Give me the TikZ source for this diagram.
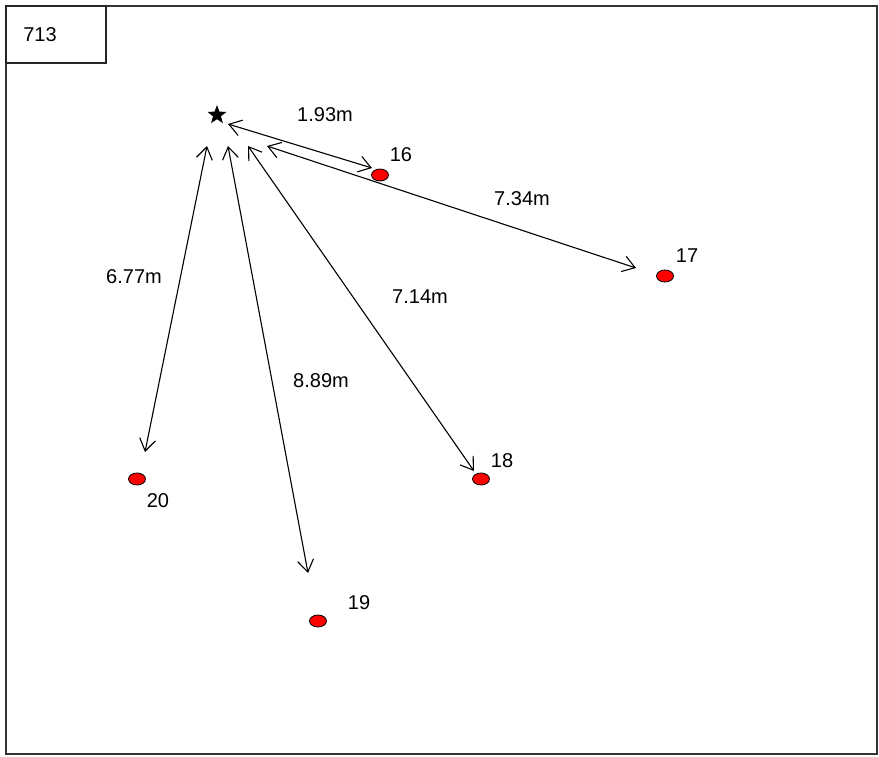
\documentclass[tikz,border=0pt]{standalone}
\usepackage{fontspec}
\setmainfont{Liberation Sans}
\usetikzlibrary{arrows.meta,shapes.geometric}
\tikzset{
  pt/.style={ellipse, draw=black, line width=0.8pt, fill=red, minimum width=17pt, minimum height=12pt, inner sep=0pt},
  tag/.style={font=\fontsize{20}{20}\selectfont, inner sep=0pt},
  link/.style={line width=1.1pt, {Straight Barb[length=12pt,width=16pt,line width=1.1pt]}-{Straight Barb[length=12pt,width=16pt,line width=1.1pt]}},
}
\begin{document}
\begin{tikzpicture}[x=1pt,y=-1pt]
\useasboundingbox (0,0) rectangle (879,756);
% frame and title box
\draw[line width=2pt, black!80] (6,6) rectangle (877,754);
\draw[line width=1.4pt, black!85] (6,6) rectangle (106,63);
\node[tag] (title) at (40,35) {713};

% reference point
\node[star, star points=5, star point ratio=2.4, fill=black, inner sep=0pt, minimum size=20pt] (ref) at (217,115) {};

% measured points
\node[pt] (p16) at (380,175) {};
\node[pt] (p17) at (665,276) {};
\node[pt] (p18) at (481,479) {};
\node[pt] (p19) at (318,621) {};
\node[pt] (p20) at (137,479) {};

\node[tag] (l16) at (401,155) {16};
\node[tag] (l17) at (687,256) {17};
\node[tag] (l18) at (502,461) {18};
\node[tag] (l19) at (359,603) {19};
\node[tag] (l20) at (158,501) {20};

% arrow ends
\coordinate (a16) at (228,124);  \coordinate (b16) at (372,168);
\coordinate (a17) at (267,146);  \coordinate (b17) at (636,268);
\coordinate (a20) at (207,146);  \coordinate (b20) at (145,452);
\coordinate (a19) at (228,146);  \coordinate (b19) at (308,573);
\coordinate (a18) at (248,146);  \coordinate (b18) at (474,471);

\draw[link] (a16) -- (b16);
\draw[link] (a17) -- (b17);
\draw[link] (a20) -- (b20);
\draw[link] (a19) -- (b19);
\draw[link] (a18) -- (b18);

% distances
\node[tag] (d16) at (325,115) {1.93m};
\node[tag] (d17) at (522,199) {7.34m};
\node[tag] (d18) at (420,297) {7.14m};
\node[tag] (d20) at (134,277) {6.77m};
\node[tag] (d19) at (321,381) {8.89m};
\end{tikzpicture}
\end{document}
